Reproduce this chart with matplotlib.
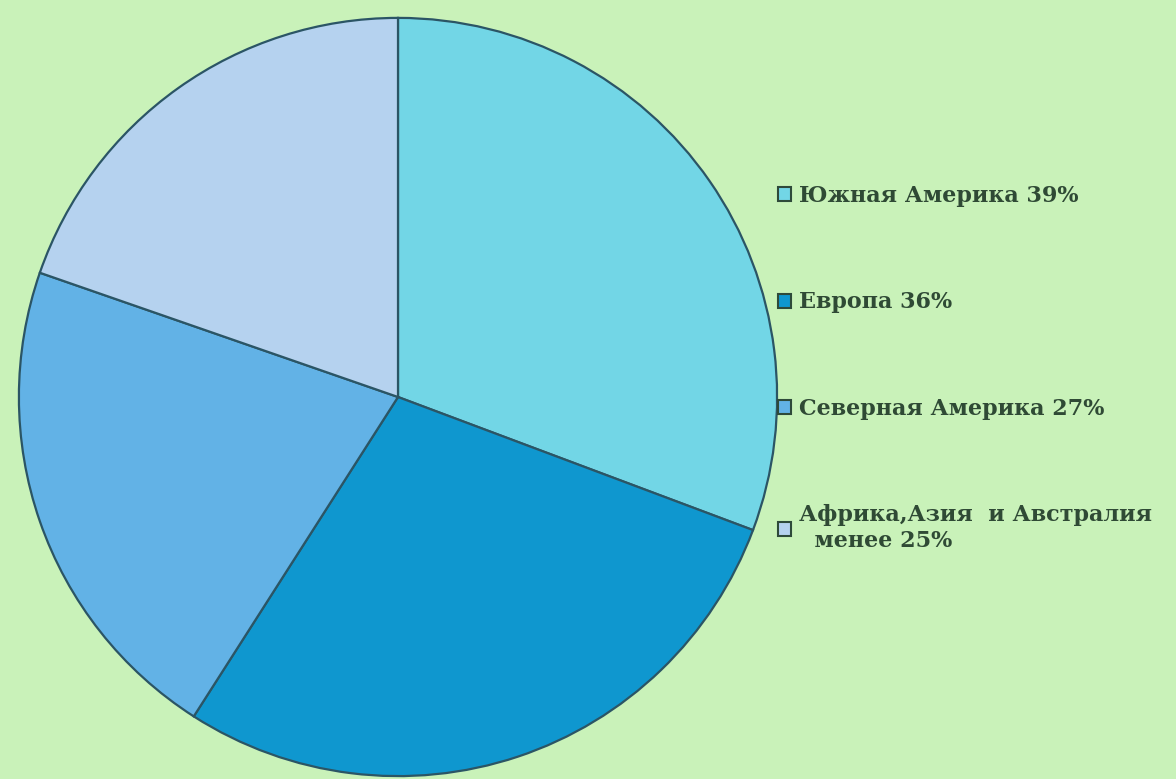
import matplotlib.pyplot as plt
from matplotlib.patches import Patch

# данные
regions = ['Южная Америка 39%', 'Европа 36%', 'Северная Америка 27%',
           'Африка,Азия  и Австралия\n  менее 25%']
values = [39, 36, 27, 25]
colors = ['#72d6e6', '#0f97cf', '#62b2e6', '#b5d2ef']

bg = '#c9f2b9'
edge = '#2b5565'

fig = plt.figure(figsize=(11.76, 7.79), dpi=100)
fig.patch.set_facecolor(bg)

ax = fig.add_axes([17 / 1176, 1 / 779, 762 / 1176, 762 / 779])
ax.set_facecolor(bg)
ax.pie(values, colors=colors, startangle=90, counterclock=False,
       wedgeprops=dict(edgecolor=edge, linewidth=1.6))
ax.set_xlim(-1.005, 1.005)
ax.set_ylim(-1.005, 1.005)
ax.set_aspect('equal')

handles = [Patch(facecolor=c, edgecolor='#2e4a3a', linewidth=1.5) for c in colors]
fig.legend(handles, regions, loc='upper left',
           bbox_to_anchor=(778 / 1176, 1 - 185 / 779),
           frameon=False, labelspacing=3.8, borderpad=0, borderaxespad=0,
           handlelength=0.6, handleheight=0.6, handletextpad=0.35,
           prop=dict(family='DejaVu Serif', weight='bold', size=16),
           labelcolor='#2f4a35')

fig.savefig('out.png', dpi=100, facecolor=bg)
